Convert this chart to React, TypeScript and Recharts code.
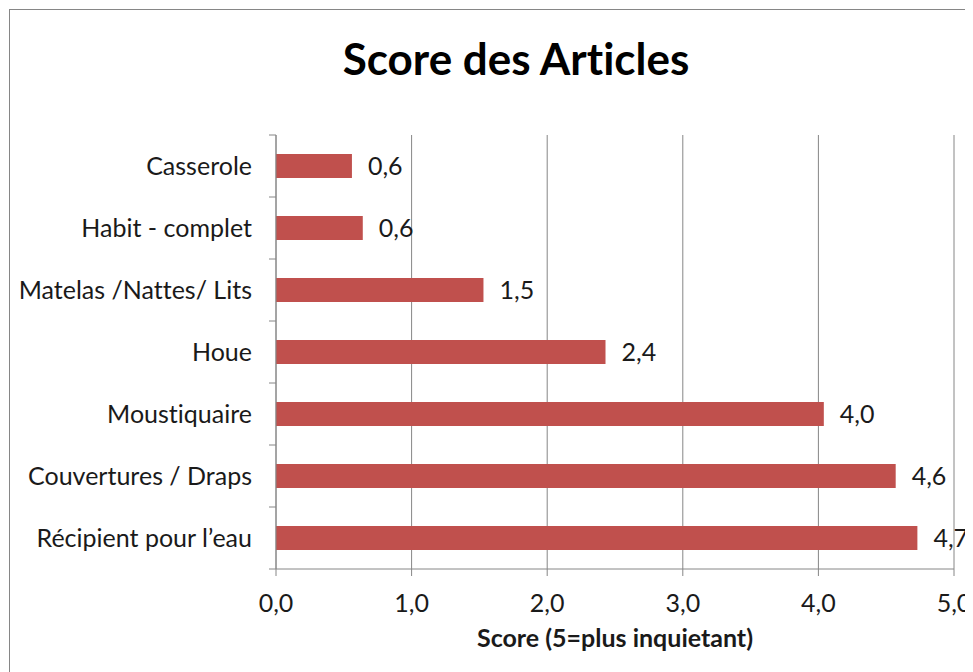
import React from 'react';
import { BarChart, Bar, XAxis, YAxis, CartesianGrid, LabelList, Label } from 'recharts';

const categories = [
  'Casserole',
  'Habit - complet',
  'Matelas /Nattes/ Lits',
  'Houe',
  'Moustiquaire',
  'Couvertures / Draps',
  'Récipient pour l’eau',
];
const scores = [0.56, 0.64, 1.53, 2.43, 4.04, 4.57, 4.73];
const xTicks = [0, 1, 2, 3, 4, 5];
const chartTitle = 'Score des Articles';
const xAxisTitle = 'Score (5=plus inquietant)';

const data = categories.map((name, i) => ({ name, score: scores[i] }));

const fmt = (v: number) => Number(v).toFixed(1).replace('.', ',');

const FONT = 'Lato, "Open Sans", sans-serif';
const GRAY = '#868686';
const TEXT = '#1a1a1a';
const TICK_GAP = 24;

const CategoryTick = (props: any) => {
  const { x, y, payload, index, visibleTicksCount, height } = props;
  const count = visibleTicksCount || categories.length;
  const half = (height || 434) / count / 2;
  const lx = x + TICK_GAP;
  return (
    <g>
      <text
        x={x}
        y={y}
        dy="0.36em"
        textAnchor="end"
        fontFamily={FONT}
        fontSize={25}
        fill={TEXT}
      >
        {payload.value}
      </text>
      <line x1={lx - 7} x2={lx} y1={y - half} y2={y - half} stroke={GRAY} strokeWidth={1} />
      {index === count - 1 && (
        <line x1={lx - 7} x2={lx} y1={y + half} y2={y + half} stroke={GRAY} strokeWidth={1} />
      )}
    </g>
  );
};

export default function App() {
  return (
    <div
      style={{
        position: 'relative',
        marginLeft: 1,
        marginTop: 1,
        width: 963,
        height: 662,
        border: `1px solid ${GRAY}`,
        background: '#fff',
      }}
    >
      <style>{`html,body{overflow:hidden;} *{font-variant-ligatures:none;font-feature-settings:"liga" 0,"clig" 0;}`}</style>
      <div
        style={{
          position: 'absolute',
          left: 506,
          top: 26,
          transform: 'translateX(-50%)',
          whiteSpace: 'nowrap',
          fontFamily: FONT,
          fontWeight: 700,
          fontSize: 44,
          lineHeight: 1,
          color: '#000',
        }}
      >
        {chartTitle}
      </div>
      <BarChart
        width={963}
        height={662}
        data={data}
        layout="vertical"
        margin={{ top: 125, right: 19, bottom: 53, left: 0 }}
        barSize={24}
      >
        <CartesianGrid horizontal={false} stroke={GRAY} strokeWidth={1} />
        <XAxis
          type="number"
          domain={[0, 5]}
          ticks={xTicks}
          tickFormatter={fmt}
          interval={0}
          height={50}
          stroke={GRAY}
          tickSize={7}
          tickMargin={18}
          tick={{ fill: TEXT, fontFamily: FONT, fontSize: 25 }}
        >
          <Label
            value={xAxisTitle}
            position="bottom"
            offset={10}
            style={{ fontFamily: FONT, fontWeight: 700, fontSize: 25, fill: TEXT }}
          />
        </XAxis>
        <YAxis
          type="category"
          dataKey="name"
          width={266}
          stroke={GRAY}
          tickLine={false}
          tickSize={6}
          tickMargin={18}
          interval={0}
          tick={<CategoryTick />}
        />
        <Bar dataKey="score" fill="#C0504D" isAnimationActive={false}>
          <LabelList
            dataKey="score"
            position="right"
            offset={16}
            formatter={(v: any) => fmt(v)}
            style={{ fontFamily: FONT, fontSize: 25, fill: TEXT }}
          />
        </Bar>
      </BarChart>
    </div>
  );
}
